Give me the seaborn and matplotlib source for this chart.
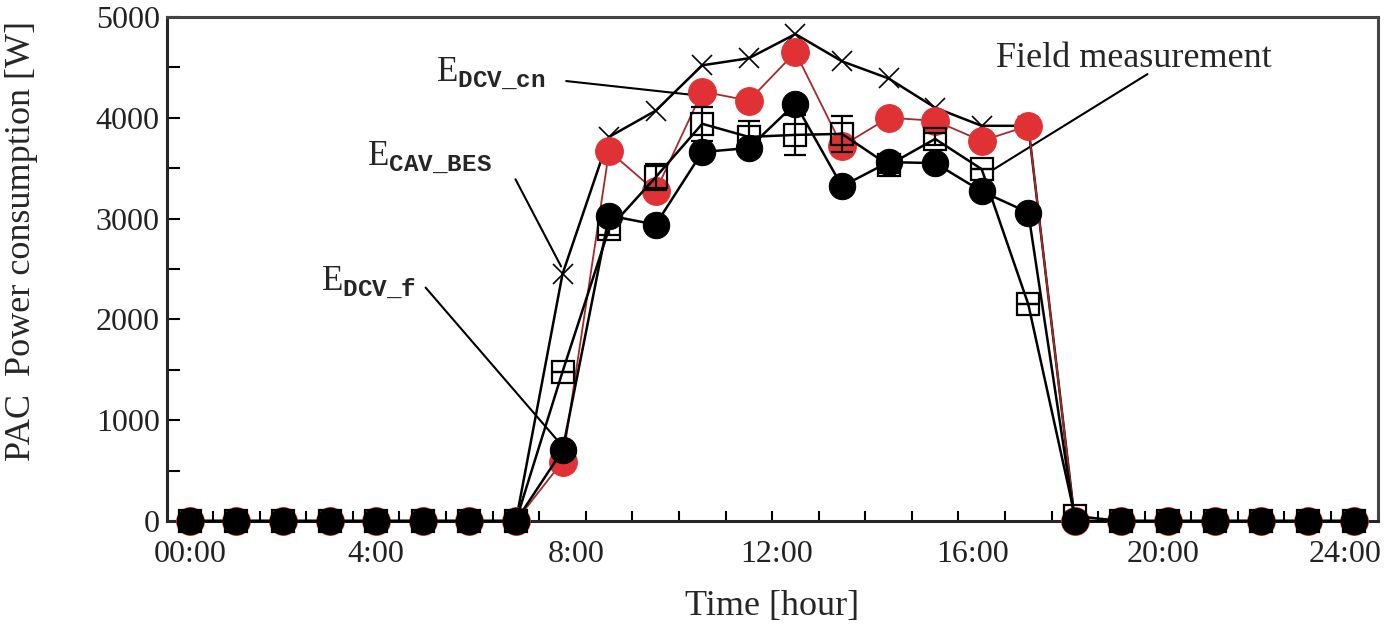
import matplotlib
matplotlib.use("Agg")
import matplotlib.pyplot as plt
import seaborn as sns
import pandas as pd
from matplotlib.ticker import FixedLocator, MultipleLocator

# 26 hourly slots on a category axis
hours = [0, 1, 2, 3, 4, 5, 6, 7, 8, 9, 10, 11, 12, 13, 14, 15, 16, 17, 18, 19, 20, 21, 22, 23, 24, 25]
tick_pos = [0, 4.0, 8.3, 12.6, 16.8, 20.9, 24.8]
tick_labels = ["00:00", "4:00", "8:00", "12:00", "16:00", "20:00", "24:00"]

e_cav_bes = [0, 0, 0, 0, 0, 0, 0, 0, 2450, 3810, 4070, 4520, 4590, 4830, 4560, 4390,
             4100, 3920, 3920, 0, 0, 0, 0, 0, 0, 0]
e_dcv_cn = [0, 0, 0, 0, 0, 0, 0, 0, 590, 3670, 3270, 4260, 4170, 4650, 3720, 4000,
            3970, 3770, 3920, 0, 0, 0, 0, 0, 0, 0]
e_dcv_f = [0, 0, 0, 0, 0, 0, 0, 0, 700, 3030, 2940, 3660, 3700, 4140, 3320, 3560,
           3550, 3270, 3060, 0, 0, 0, 0, 0, 0, 0]
field = [0, 0, 0, 0, 0, 0, 0, 0, 1480, 2900, 3410, 3940, 3810, 3830, 3840, 3530,
         3790, 3490, 2150, 50, 0, 0, 0, 0, 0, 0]
field_err = [0, 0, 0, 0, 0, 0, 0, 0, 0, 60, 130, 170, 160, 200, 180, 80,
             60, 0, 0, 0, 0, 0, 0, 0, 0, 0]

df = pd.DataFrame({"hour": hours, "cav": e_cav_bes, "cn": e_dcv_cn,
                   "f": e_dcv_f, "field": field, "err": field_err})

sns.set_theme(style="ticks")
plt.rcParams["font.family"] = ["Liberation Serif", "DejaVu Serif"]
plt.rcParams["mathtext.fontset"] = "custom"
plt.rcParams["mathtext.rm"] = "Liberation Serif"
plt.rcParams["mathtext.tt"] = "Liberation Mono:bold"

fig = plt.figure(figsize=(14, 6.27), dpi=100)
ax = fig.add_axes([0.119, 0.169, 0.865, 0.804])

sns.lineplot(data=df, x="hour", y="cav", ax=ax, color="black", lw=1.8,
             marker="x", markersize=14, markeredgewidth=1.2, markeredgecolor="black",
             zorder=3, clip_on=False)
sns.lineplot(data=df, x="hour", y="cn", ax=ax, color="#a52a2a", lw=1.3,
             marker="o", markersize=20, markerfacecolor="#e03234",
             markeredgecolor="#e03234", zorder=4, clip_on=False)
sns.lineplot(data=df, x="hour", y="f", ax=ax, color="black", lw=1.8,
             marker="o", markersize=19, markerfacecolor="black",
             markeredgecolor="black", zorder=5, clip_on=False)
sns.lineplot(data=df, x="hour", y="field", ax=ax, color="black", lw=1.8,
             marker="s", markersize=16, markerfacecolor="none",
             markeredgecolor="black", markeredgewidth=1.6, zorder=6, clip_on=False)
ax.errorbar(df["hour"], df["field"], yerr=df["err"], fmt="none", ecolor="black",
            elinewidth=1.6, capsize=8, capthick=1.6, zorder=6)

ax.set_xlim(-0.5, 25.5)
ax.set_ylim(0, 5000)

ax.xaxis.set_major_locator(FixedLocator(tick_pos))
ax.set_xticklabels(tick_labels)
ax.xaxis.set_minor_locator(FixedLocator([h + 0.5 for h in hours[:-1]]))
ax.yaxis.set_major_locator(MultipleLocator(1000))
ax.yaxis.set_minor_locator(MultipleLocator(500))
ax.tick_params(axis="x", which="major", length=0, pad=14, labelsize=23, labelcolor="#222222")
ax.tick_params(axis="x", which="minor", direction="in", length=7, width=1.5, color="black")
ax.tick_params(axis="y", which="both", direction="in", length=9, width=1.5,
               labelsize=23, pad=5, labelcolor="#222222", color="black")
for side in ["left", "bottom"]:
    ax.spines[side].set_linewidth(2.2)
for side in ["top", "right"]:
    ax.spines[side].set_linewidth(2.2)
    ax.spines[side].set_color("#444444")

ax.set_xlabel("Time [hour]", fontsize=26, va="top")
ax.xaxis.set_label_coords(0.5, -0.137)
ax.set_ylabel("PAC  Power consumption [W]", fontsize=26)
ax.yaxis.set_label_coords(-0.106, 0.555)

# labels and leader lines
ax.text(5.28, 4364, r"E$_{\mathtt{DCV\_cn}}$", fontsize=25, va="baseline", ha="left")
ax.text(3.80, 3529, r"E$_{\mathtt{CAV\_BES}}$", fontsize=25, va="baseline", ha="left")
ax.text(2.82, 2296, r"E$_{\mathtt{DCV\_f}}$", fontsize=25, va="baseline", ha="left")
ax.text(17.31, 4503, "Field measurement", fontsize=26, va="baseline", ha="left")

line = dict(arrowstyle="-", color="black", lw=1.5, shrinkA=0, shrinkB=0)
ax.annotate("", xy=(11.03, 4215), xytext=(8.08, 4364), arrowprops=line)
ax.annotate("", xy=(7.97, 2525), xytext=(6.99, 3390), arrowprops=line)
ax.annotate("", xy=(7.93, 780), xytext=(5.06, 2316), arrowprops=line)
ax.annotate("", xy=(17.26, 3489), xytext=(20.56, 4433), arrowprops=line)

fig.savefig("out.png", dpi=100, facecolor="white")
